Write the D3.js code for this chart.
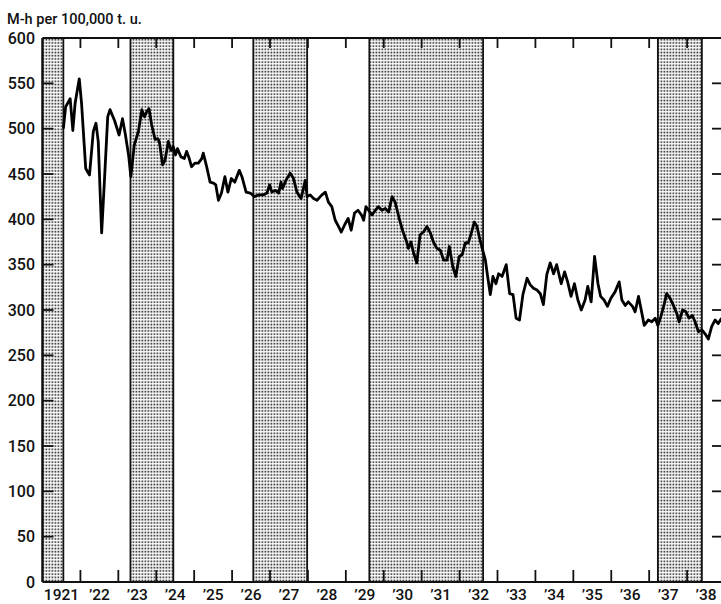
<!DOCTYPE html>
<html><head><meta charset="utf-8">
<script src="https://cdn.jsdelivr.net/npm/d3@7"></script>
<style>
html,body{margin:0;padding:0;background:#fff;}
svg{display:block;font-family:Roboto,"Liberation Sans",Arial,sans-serif;}
</style></head>
<body>
<svg id="chart" width="721" height="604"></svg>
<script>
// ---- data ----
const dates = [1921.55,1921.61,1921.73,1921.80,1921.86,1921.97,1922.03,1922.14,1922.24,1922.34,1922.41,1922.47,1922.56,1922.63,1922.72,1922.78,1922.90,1923.02,1923.11,1923.18,1923.27,1923.33,1923.42,1923.53,1923.62,1923.69,1923.75,1923.81,1923.88,1923.97,1924.04,1924.08,1924.17,1924.23,1924.32,1924.39,1924.45,1924.51,1924.56,1924.65,1924.74,1924.80,1924.87,1924.93,1925.02,1925.11,1925.20,1925.24,1925.33,1925.42,1925.51,1925.57,1925.64,1925.72,1925.81,1925.89,1925.98,1926.07,1926.19,1926.26,1926.37,1926.48,1926.59,1926.70,1926.83,1926.92,1926.99,1927.05,1927.14,1927.23,1927.29,1927.33,1927.42,1927.53,1927.62,1927.71,1927.82,1927.89,1927.93,1927.98,1928.06,1928.15,1928.24,1928.37,1928.46,1928.54,1928.63,1928.72,1928.81,1928.88,1928.97,1929.06,1929.14,1929.23,1929.32,1929.41,1929.47,1929.53,1929.60,1929.69,1929.78,1929.86,1929.95,1930.04,1930.13,1930.22,1930.30,1930.42,1930.51,1930.59,1930.65,1930.72,1930.78,1930.87,1930.96,1931.05,1931.14,1931.23,1931.31,1931.40,1931.49,1931.58,1931.67,1931.73,1931.82,1931.90,1931.99,1932.07,1932.15,1932.23,1932.31,1932.39,1932.46,1932.54,1932.61,1932.68,1932.74,1932.81,1932.88,1932.96,1933.03,1933.12,1933.23,1933.32,1933.41,1933.49,1933.58,1933.67,1933.78,1933.86,1933.95,1934.04,1934.13,1934.21,1934.30,1934.39,1934.48,1934.56,1934.68,1934.77,1934.85,1934.94,1935.03,1935.12,1935.21,1935.31,1935.38,1935.47,1935.56,1935.65,1935.72,1935.81,1935.90,1935.99,1936.10,1936.21,1936.28,1936.37,1936.45,1936.56,1936.63,1936.72,1936.81,1936.87,1936.98,1937.07,1937.16,1937.23,1937.31,1937.40,1937.46,1937.55,1937.64,1937.73,1937.79,1937.88,1937.97,1938.05,1938.14,1938.21,1938.30,1938.39,1938.47,1938.56,1938.65,1938.74,1938.82,1938.91];
const values = [500,524,533,498,528,555,528,456,449,497,506,486,385,440,513,521,509,493,511,495,471,447,482,497,521,513,519,522,504,488,489,486,460,465,486,476,480,471,478,469,467,475,467,458,462,462,467,473,458,441,440,438,421,429,447,430,445,441,454,447,430,429,425,427,427,429,438,430,432,429,441,434,443,451,445,430,423,436,443,425,427,423,421,427,430,419,414,399,392,386,394,401,388,407,410,405,399,414,410,405,410,414,410,412,408,425,419,399,386,377,368,375,364,352,383,386,392,385,375,368,366,355,355,370,348,337,359,361,374,374,385,397,392,377,366,355,337,317,337,329,340,337,350,318,317,291,289,317,335,328,324,322,318,306,339,352,340,350,329,342,331,315,329,311,300,311,326,309,359,329,315,311,304,313,320,331,311,305,309,304,298,315,296,283,289,287,291,283,293,307,318,313,305,296,287,300,298,291,294,287,276,278,274,268,282,289,285,291];
const bandStart = [1921.0, 1923.32, 1926.56, 1929.62, 1937.23];
const bandEnd   = [1921.55, 1924.45, 1927.98, 1932.62, 1938.39];
const yTicks = [0,50,100,150,200,250,300,350,400,450,500,550,600];
const xTickYears = [1922,1923,1924,1925,1926,1927,1928,1929,1930,1931,1932,1933,1934,1935,1936,1937,1938];
const xLabels = ["1921","\u201922","\u201923","\u201924","\u201925","\u201926","\u201927","\u201928","\u201929","\u201930","\u201931","\u201932","\u201933","\u201934","\u201935","\u201936","\u201937","\u201938"];
const xLabelYears = [1921,1922,1923,1924,1925,1926,1927,1928,1929,1930,1931,1932,1933,1934,1935,1936,1937,1938];
const yTitle = "M-h per 100,000 t. u.";

// ---- layout ----
const svg = d3.select("#chart");
const x = d3.scaleLinear().domain([1921, 1939]).range([42.5, 725]);
const y = d3.scaleLinear().domain([0, 600]).range([582, 38]);

// stipple pattern
const defs = svg.append("defs");
const pat = defs.append("pattern").attr("id","dots").attr("patternUnits","userSpaceOnUse")
  .attr("width",3).attr("height",3.2);
pat.append("rect").attr("width",3).attr("height",3.2).attr("fill","#fff");
pat.append("rect").attr("x",0.5).attr("y",0.5).attr("width",1.8).attr("height",1.6).attr("fill","#333");

// bands
const bands = bandStart.map((s,i)=>({s, e: bandEnd[i]}));
svg.append("g").selectAll("rect").data(bands).join("rect")
  .attr("x", d=>x(d.s)).attr("y", y(600))
  .attr("width", d=>x(d.e)-x(d.s)).attr("height", y(0)-y(600))
  .attr("fill","url(#dots)");
svg.append("g").selectAll("line").data(bands.flatMap(d=>[d.s,d.e])).join("line")
  .attr("x1", d=>x(d)).attr("x2", d=>x(d)).attr("y1", y(600)).attr("y2", y(0))
  .attr("stroke","#111").attr("stroke-width",1.8);

// frame
const frame = svg.append("g").attr("stroke","#111").attr("stroke-width",2.2).attr("fill","none");
frame.append("line").attr("x1",x(1921)).attr("x2",x(1939)).attr("y1",y(600)).attr("y2",y(600));
frame.append("line").attr("x1",x(1921)).attr("x2",x(1939)).attr("y1",y(0)).attr("y2",y(0));
frame.append("line").attr("x1",x(1921)).attr("x2",x(1921)).attr("y1",y(600)).attr("y2",y(0));
frame.append("line").attr("x1",x(1939)).attr("x2",x(1939)).attr("y1",y(600)).attr("y2",y(0));

// y ticks (left and right, inward)
const tk = svg.append("g").attr("stroke","#111").attr("stroke-width",1.8);
yTicks.filter(v=>v>0 && v<600).forEach(v=>{
  tk.append("line").attr("x1",x(1921)).attr("x2",x(1921)+11).attr("y1",y(v)).attr("y2",y(v));
  tk.append("line").attr("x1",x(1939)).attr("x2",x(1939)-13).attr("y1",y(v)).attr("y2",y(v));
});
// x ticks top & bottom (inward)
xTickYears.forEach(t=>{
  tk.append("line").attr("x1",x(t)).attr("x2",x(t)).attr("y1",y(600)).attr("y2",y(600)+10);
  tk.append("line").attr("x1",x(t)).attr("x2",x(t)).attr("y1",y(0)).attr("y2",y(0)-12);
});

// y labels
svg.append("g").selectAll("text").data(yTicks).join("text")
  .attr("x",35).attr("y",d=>y(d)).attr("dy","0.36em").attr("text-anchor","end")
  .attr("font-size",16).attr("font-weight",500).attr("fill","#111").text(d=>d);

// x labels
svg.append("g").selectAll("text").data(xLabelYears).join("text")
  .attr("x",d=>x(d+0.5)).attr("y",595).attr("dy","0.35em").attr("text-anchor","middle")
  .attr("font-size",15.5).attr("font-weight",500).attr("fill","#111").text((d,i)=>xLabels[i]);

// title
svg.append("text").attr("x",7).attr("y",19).attr("dy","0.36em").attr("font-size",14.5)
  .attr("font-weight",500).attr("fill","#111").text(yTitle);

// line
const pts = dates.map((d,i)=>[d, values[i]]);
svg.append("path").datum(pts)
  .attr("d", d3.line().x(d=>x(d[0])).y(d=>y(d[1])))
  .attr("fill","none").attr("stroke","#000").attr("stroke-width",2.8).attr("stroke-linejoin","round");
</script>
</body></html>
